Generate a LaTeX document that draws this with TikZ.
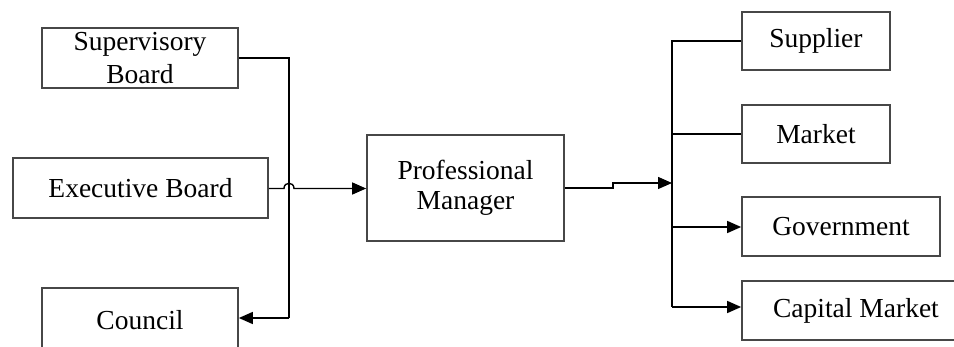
\documentclass[tikz,border=0pt]{standalone}
\usepackage{fontspec}
\setmainfont{Liberation Serif}
\usetikzlibrary{arrows.meta}
\begin{document}
\begin{tikzpicture}[x=1pt,y=-1pt,
  box/.style={draw=black!72, line width=1.7pt, fill=white, inner sep=0pt,
    align=center, font=\fontsize{27.5}{30}\selectfont},
  conn/.style={line width=1.4pt, black},
  arr/.style={conn, -{Triangle[length=14pt,width=12pt]}}]
\useasboundingbox (0,0) rectangle (954,347);
\fill[white] (0,0) rectangle (954,347);
% left boxes
\node[box, minimum width=196pt, minimum height=60pt] (sup) at (140,58) {Supervisory\\[3pt]Board};
\node[box, minimum width=255pt, minimum height=60pt] (exe) at (140.5,188) {Executive Board};
\node[box, minimum width=196pt, minimum height=64pt] (cou) at (140,320) {Council};
% center
\node[box, minimum width=197pt, minimum height=106pt] (pm) at (465.5,188) {Professional\\Manager};
% right boxes
\node[box, minimum width=148pt, minimum height=58pt] (supl) at (816,41) {Supplier};
\node[box, minimum width=148pt, minimum height=58pt] (mkt) at (816,134) {Market};
\node[box, minimum width=198pt, minimum height=59pt] (gov) at (841,226.5) {Government};
\node[box, minimum width=228pt, minimum height=59pt] (cap) at (856,310.5) {Capital Market};
% coordinates
\coordinate (lt) at (289,58);
\coordinate (lb) at (289,318);
\coordinate (h1) at (284,188.5);
\coordinate (h2) at (294,188.5);
\coordinate (s1) at (613,188);
\coordinate (s2) at (613,183);
\coordinate (rj) at (672,183);
\coordinate (rt) at (672,41);
\coordinate (rm) at (672,134);
\coordinate (rg) at (672,227);
\coordinate (rb) at (672,307);
% left bus
\draw[conn] (sup.east |- lt) -- (lt) -- (lb);
\draw[arr] (lb) -- (cou.east |- lb);
\draw[arr] (exe.east |- h1) -- (h1) .. controls (284,181.5) and (294,181.5) .. (h2) -- (pm.west |- h2);
% right bus
\draw[arr] (pm.east |- s1) -- (s1) -- (s2) -- (rj);
\draw[conn] (supl.west |- rt) -- (rt) -- (rb);
\draw[conn] (rm) -- (mkt.west |- rm);
\draw[arr] (rg) -- (gov.west |- rg);
\draw[arr] (rb) -- (cap.west |- rb);
\end{tikzpicture}
\end{document}
